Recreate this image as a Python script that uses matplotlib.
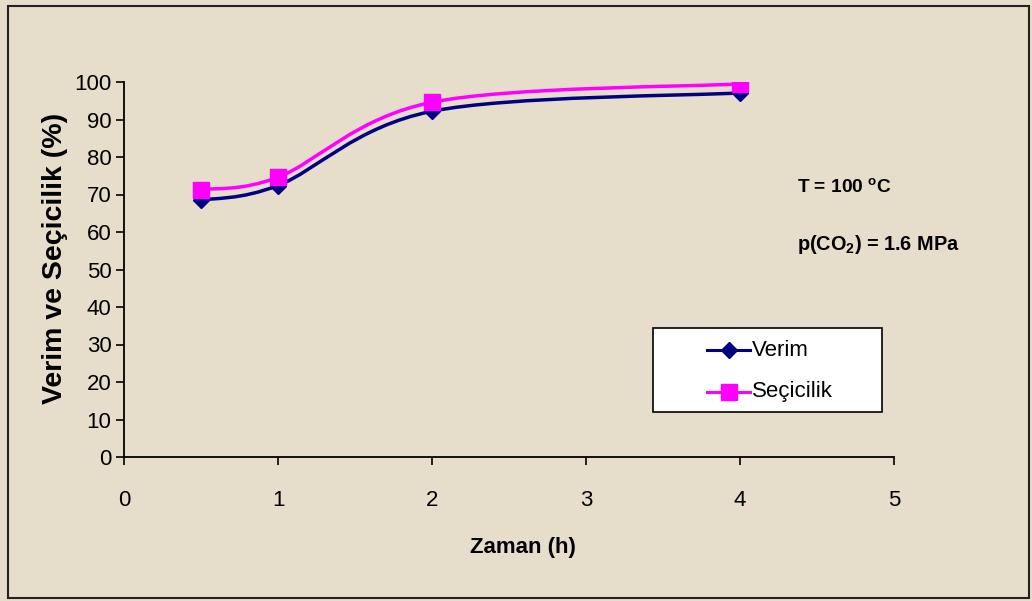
import matplotlib
matplotlib.use("Agg")
import matplotlib.pyplot as plt
from matplotlib.path import Path
from matplotlib.patches import PathPatch, Rectangle
from matplotlib.lines import Line2D
import numpy as np

plt.rcParams['font.family'] = ['Liberation Sans', 'DejaVu Sans']
plt.rcParams['mathtext.fontset'] = 'custom'
plt.rcParams['mathtext.rm'] = 'Liberation Sans'
plt.rcParams['mathtext.bf'] = 'Liberation Sans:bold'

zaman = [0.5, 1, 2, 4]
verim = [68.5, 72.4, 92.2, 97.1]
secicilik = [71.3, 74.6, 94.6, 99.5]
xticks = [0, 1, 2, 3, 4, 5]
yticks = list(range(0, 101, 10))
series_names = ['Verim', 'Seçicilik']

W, H = 1032, 601
bg = '#e6ddca'
fig = plt.figure(figsize=(W/100, H/100), dpi=100, facecolor=bg)
ax = fig.add_axes([124/W, 1-457/H, 770/W, 375/H])
ax.set_facecolor('none')

def smooth_path(xs, ys):
    P = np.column_stack([xs, ys]).astype(float)
    n = len(P)
    verts = [P[0]]
    codes = [Path.MOVETO]
    for i in range(n-1):
        p0 = P[i-1] if i > 0 else P[i]
        p1 = P[i]
        p2 = P[i+1]
        p3 = P[i+2] if i+2 < n else P[i+1]
        c1 = p1 + (p2 - p0) / 6.0
        c2 = p2 - (p3 - p1) / 6.0
        verts += [c1, c2, p2]
        codes += [Path.CURVE4]*3
    return Path(verts, codes)

styles = [('#000080', 'D', 8), ('#ff00ff', 's', 11)]
for ys, (col, mk, ms) in zip([verim, secicilik], styles):
    ax.add_patch(PathPatch(smooth_path(zaman, ys), facecolor='none', edgecolor=col, lw=2.5, zorder=3))
    ax.plot(zaman, ys, linestyle='none', marker=mk, ms=ms, color=col, zorder=4)

ax.set_xlim(0, 5)
ax.set_ylim(0, 100)
ax.set_xticks(xticks)
ax.set_yticks(yticks)
ax.spines['top'].set_visible(False)
ax.spines['right'].set_visible(False)
for s in ['left', 'bottom']:
    ax.spines[s].set_linewidth(1.3)
    ax.spines[s].set_color('black')
ax.tick_params(axis='x', direction='out', length=6, width=1.2, pad=18, labelsize=16)
ax.tick_params(axis='y', direction='out', length=6, width=1.2, pad=3, labelsize=16)

fig.text(523/W, 1-548/H, 'Zaman (h)', fontsize=16, fontweight='bold',
         ha='center', va='center')
fig.text(55/W, 1-258/H, 'Verim ve Seçicilik (%)', fontsize=20.5, fontweight='bold',
         rotation=90, ha='center', va='center')

# legend
fig.patches.append(Rectangle((653/W, 1-412/H), 229/W, 84/H, transform=fig.transFigure,
                             facecolor='white', edgecolor='black', lw=1.2, zorder=5))
for (col, mk, ms), name, yc in zip(styles, series_names, [350, 392]):
    fig.lines.append(Line2D([707/W, 750/W], [1-yc/H, 1-yc/H], transform=fig.transFigure,
                            color=col, lw=2.2, zorder=6))
    fig.lines.append(Line2D([728.5/W], [1-yc/H], transform=fig.transFigure,
                            color=col, marker=mk, ms=ms, linestyle='none', zorder=6))
    fig.text(752/W, 1-yc/H, name, fontsize=16, ha='left', va='center', zorder=7)

fig.text(797/W, 1-188/H, r'T = 100 $^{\mathbf{o}}$C', fontsize=13.8, fontweight='bold',
         va='center', ha='left')
fig.text(797/W, 1-244/H, r'p(CO$_{\mathbf{2}}$) = 1.6 MPa', fontsize=14.3, fontweight='bold',
         va='center', ha='left')

fig.patches.append(Rectangle((8/W, 3/H), 1021/W, 592/H, transform=fig.transFigure,
                             fill=False, edgecolor='#222222', lw=1.5))

fig.savefig('out.png', dpi=100, facecolor=bg)
